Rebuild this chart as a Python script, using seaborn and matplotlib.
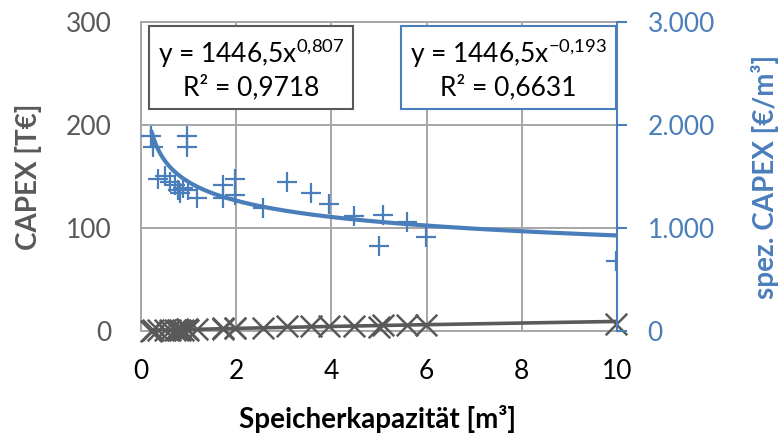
import numpy as np
import pandas as pd
import matplotlib
matplotlib.use("Agg")
import matplotlib.pyplot as plt
import seaborn as sns

# Speicherkapazität [m³]
kapazitaet = [0.22, 0.26, 0.97, 0.97, 0.36, 0.50, 0.61, 0.71, 0.78, 0.82,
              0.89, 0.99, 1.17, 1.73, 1.97, 1.73, 1.97, 2.57, 3.06, 3.58,
              3.95, 4.47, 5.08, 4.99, 5.58, 5.99, 9.98]
# spez. CAPEX [€/m³]
spez_capex = [1890, 1790, 1890, 1790, 1480, 1500, 1450, 1420, 1370, 1340,
              1385, 1370, 1290, 1420, 1480, 1290, 1320, 1190, 1450, 1340,
              1230, 1120, 1130, 825, 1060, 910, 683]
# CAPEX [T€]
capex = [0.4, 0.5, 1.8, 1.7, 0.5, 0.8, 0.9, 1.0, 1.1, 1.1,
         1.2, 1.4, 1.5, 2.5, 2.9, 2.2, 2.6, 3.1, 4.4, 4.8,
         4.9, 5.0, 5.7, 4.1, 5.9, 5.5, 6.8]

# Potenz-Trendlinien (Excel)
fit_a = 1446.5
fit_b_capex = 0.807
fit_b_spez = -0.193

df = pd.DataFrame({"x": kapazitaet, "spez": spez_capex, "capex": capex})
xt = np.linspace(min(kapazitaet), max(kapazitaet), 200)
trend = pd.DataFrame({"x": xt,
                      "capex": fit_a * xt ** fit_b_capex / 1000,
                      "spez": fit_a * xt ** fit_b_spez})

sns.set_theme(style="white")
plt.rcParams["font.family"] = ["Lato", "DejaVu Sans"]
plt.rcParams["mathtext.fontset"] = "custom"
plt.rcParams["mathtext.rm"] = "Lato"
plt.rcParams["mathtext.it"] = "Lato"

blue = "#4a7ebb"
grey = "#595959"
gridc = "#a6a6a6"
fs = 19

fig = plt.figure(figsize=(7.83, 4.38), dpi=100)
ax = fig.add_axes([0.1801, 0.2443, 0.6079, 0.7055])
ax2 = ax.twinx()

sns.scatterplot(data=df, x="x", y="capex", ax=ax, marker="x", s=240,
                color=grey, linewidth=1.8, zorder=3, clip_on=False)
sns.lineplot(data=trend, x="x", y="capex", ax=ax, color=grey, linewidth=2.6,
             zorder=4)
sns.scatterplot(data=df, x="x", y="spez", ax=ax2, marker="+", s=210,
                color=blue, linewidth=1.6, zorder=3)
sns.lineplot(data=trend, x="x", y="spez", ax=ax2, color=blue, linewidth=3,
             zorder=4)

ax.set_xlim(0, 10)
ax.set_ylim(0, 300)
ax2.set_ylim(0, 3000)
ax.set_xticks(np.arange(0, 11, 2))
ax.set_yticks([0, 100, 200, 300])
ax2.set_yticks([0, 1000, 2000, 3000])
ax2.set_yticklabels(["0", "1.000", "2.000", "3.000"])

ax.grid(True, color=gridc, linewidth=1.4)
ax.set_axisbelow(True)
for s in ["left", "bottom", "top"]:
    ax.spines[s].set_color(gridc)
    ax.spines[s].set_linewidth(1.4)
ax.spines["right"].set_visible(False)
for s in ["left", "bottom", "top"]:
    ax2.spines[s].set_visible(False)
ax2.spines["right"].set_color(blue)
ax2.spines["right"].set_linewidth(1.5)

ax.tick_params(axis="x", length=0, pad=20, labelsize=fs, labelcolor="black")
ax.tick_params(axis="y", length=0, pad=21, labelsize=fs, labelcolor=grey)
ax2.tick_params(axis="y", direction="out", length=7, width=1.5, color=blue,
                pad=15, labelsize=fs, labelcolor=blue)

ax.set_xlabel("Speicherkapazität [m³]", fontsize=20, fontweight="bold",
              color="black")
ax.set_ylabel("CAPEX [T€]", fontsize=20, fontweight="bold", color=grey)
ax2.set_ylabel("spez. CAPEX [€/m³]", fontsize=20, fontweight="bold", color=blue)
ax.xaxis.set_label_coords(0.497, -0.285)
ax.xaxis.label.set_va("center")
ax.yaxis.set_label_coords(-0.237, 0.5)
ax.yaxis.label.set_va("center")
ax2.yaxis.set_label_coords(1.311, 0.5)
ax2.yaxis.label.set_va("center")

ax2.text(0.3206, 0.8436, "y = 1446,5x$^{0{,}807}$\nR² = 0,9718",
         transform=fig.transFigure, ha="center", va="center",
         multialignment="center", fontsize=fs, color="black", zorder=10,
         bbox=dict(boxstyle="square,pad=0.33", fc="white", ec=grey, lw=1.5))
ax2.text(0.6494, 0.8436, "y = 1446,5x$^{-0{,}193}$\nR² = 0,6631",
         transform=fig.transFigure, ha="center", va="center",
         multialignment="center", fontsize=fs, color="black", zorder=10,
         bbox=dict(boxstyle="square,pad=0.33", fc="white", ec=blue, lw=1.5))

fig.savefig("out.png", dpi=100)
